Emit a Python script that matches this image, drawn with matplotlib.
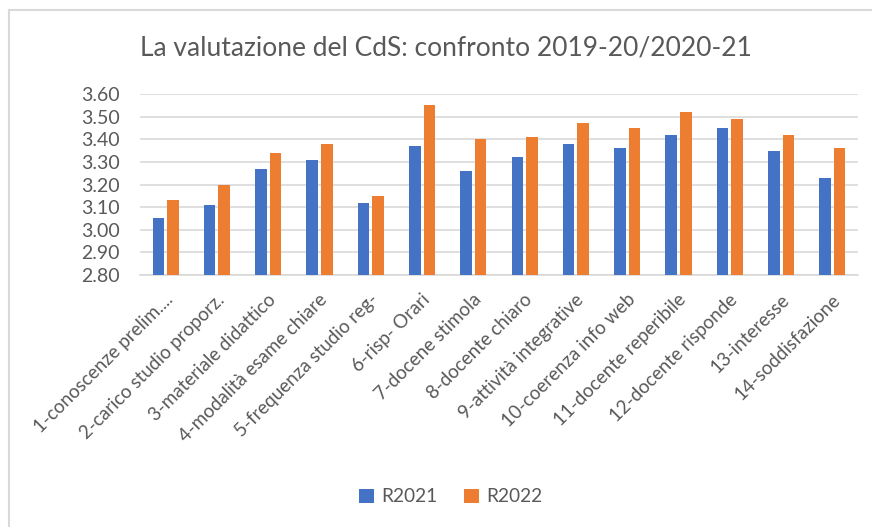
import numpy as np
import matplotlib.pyplot as plt
import matplotlib.transforms as mtransforms
from matplotlib.lines import Line2D

# Data
categories = [
    '1-conoscenze prelim....', '2-carico studio proporz.', '3-materiale didattico',
    '4-modalità esame chiare', '5-frequenza studio reg-', '6-risp- Orari',
    '7-docene stimola', '8-docente chiaro', '9-attività integrative',
    '10-coerenza info web', '11-docente reperibile', '12-docente risponde',
    '13-interesse', '14-soddisfazione',
]
r2021 = [3.05, 3.11, 3.27, 3.31, 3.12, 3.37, 3.26, 3.32, 3.38, 3.36, 3.42, 3.45, 3.35, 3.23]
r2022 = [3.13, 3.20, 3.34, 3.38, 3.15, 3.55, 3.40, 3.41, 3.47, 3.45, 3.52, 3.49, 3.42, 3.36]
yticks = [2.80, 2.90, 3.00, 3.10, 3.20, 3.30, 3.40, 3.50, 3.60]
title = 'La valutazione del CdS: confronto 2019-20/2020-21'

plt.rcParams['font.family'] = ['Lato', 'DejaVu Sans']
text_color = '#595959'
blue = '#4472C4'
orange = '#ED7D31'

fig = plt.figure(figsize=(8.72, 5.27), dpi=100)
ax = fig.add_axes([140 / 872, 1 - 275 / 527, 718 / 872, 181 / 527])

x = np.arange(len(categories))
w = 0.225
gap = 0.03
ax.bar(x - w / 2 - gap, r2021, width=w, color=blue, label='R2021', zorder=3)
ax.bar(x + w / 2 + gap, r2022, width=w, color=orange, label='R2022', zorder=3)

ax.set_xlim(-0.5, len(categories) - 0.5)
ax.set_ylim(2.80, 3.60)
ax.set_yticks(yticks)
ax.set_yticklabels([f'{v:.2f}' for v in yticks], fontsize=14, color=text_color)
ax.yaxis.grid(True, color='#D9D9D9', linewidth=1.2, zorder=0)
ax.tick_params(axis='both', length=0)
ax.tick_params(axis='y', pad=14.5)

ax.set_xticks(x)
ax.set_xticklabels(categories, rotation=45, ha='right', va='center',
                   rotation_mode='anchor', fontsize=13.5, color=text_color)
offset = mtransforms.ScaledTranslation(0.05, -0.17, fig.dpi_scale_trans)
for lbl in ax.get_xticklabels():
    lbl.set_transform(lbl.get_transform() + offset)

for side in ['top', 'right', 'left']:
    ax.spines[side].set_visible(False)
ax.spines['bottom'].set_color('#D9D9D9')
ax.spines['bottom'].set_linewidth(1.2)

fig.text(446 / 872, 1 - 48 / 527, title, ha='center', va='center',
         fontsize=19, color=text_color)

leg = fig.legend(loc='center', bbox_to_anchor=(451 / 872, 1 - 497 / 527), ncol=2,
                 frameon=False, fontsize=13.8, handlelength=0.75, handleheight=0.75,
                 handletextpad=0.4, columnspacing=1.4)
for t in leg.get_texts():
    t.set_color(text_color)

# chart frame (left and top edges visible in the screenshot)
fig.add_artist(Line2D([8.5 / 872, 8.5 / 872], [0, 1 - 10 / 527], color='#D9D9D9', linewidth=1.5))
fig.add_artist(Line2D([8.5 / 872, 1], [1 - 10 / 527, 1 - 10 / 527], color='#D9D9D9', linewidth=1.5))

fig.savefig('out.png', dpi=100, facecolor='white')
